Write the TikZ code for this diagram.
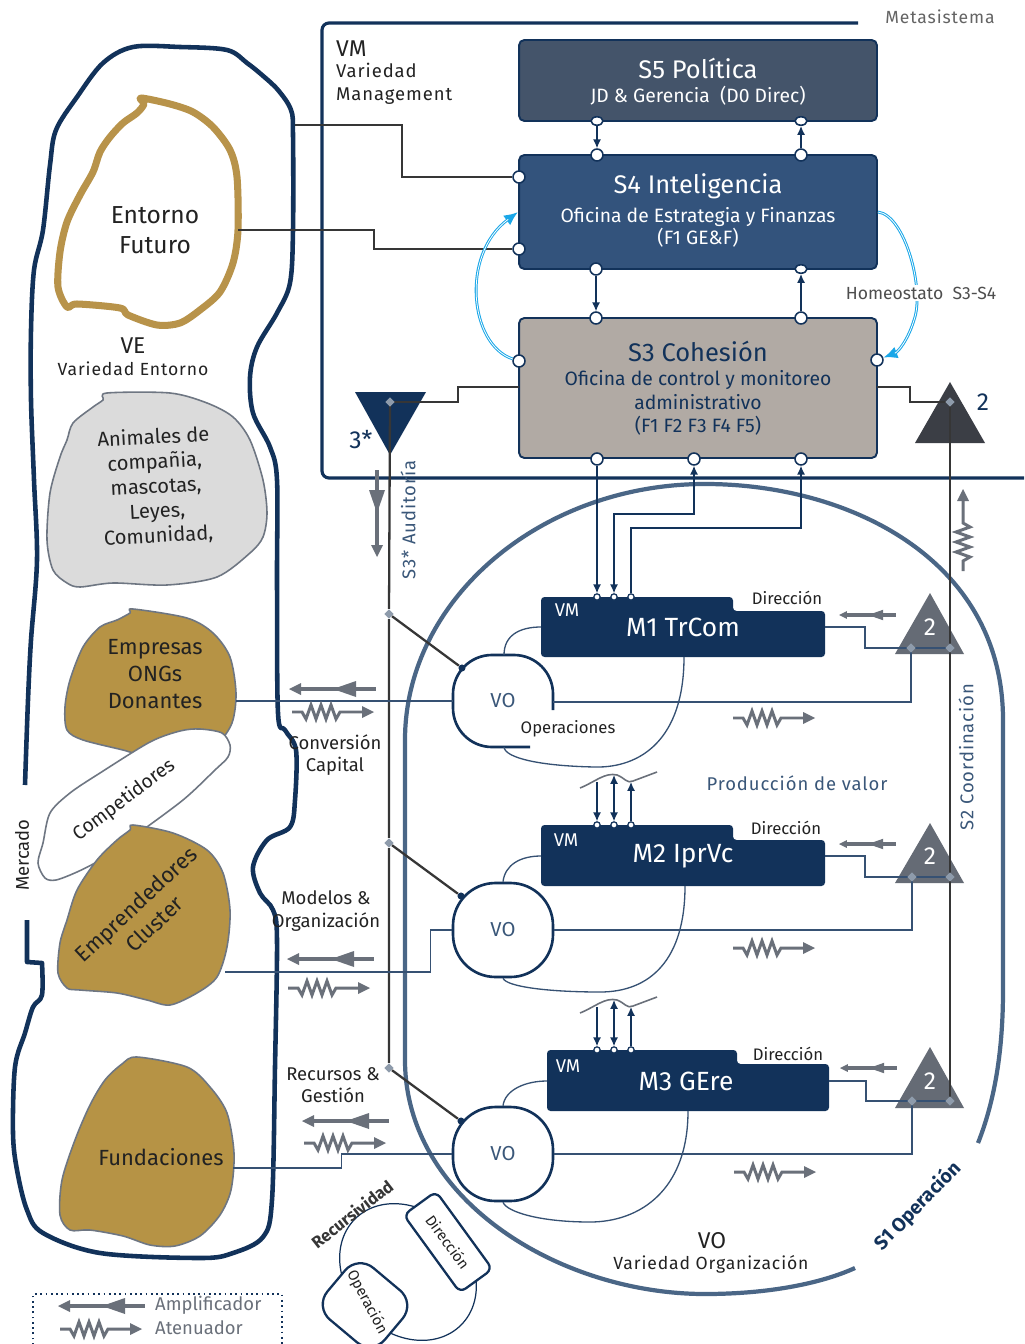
\documentclass[tikz,border=0pt]{standalone}
\usepackage{fontspec}
\setmainfont{Fira Sans}
\newfontfamily\spaced{Fira Sans}[LetterSpace=5]
\usetikzlibrary{arrows.meta,shapes.geometric,calc}

\definecolor{navy}{HTML}{12325A}
\definecolor{s5c}{HTML}{44546A}
\definecolor{s4c}{HTML}{33537C}
\definecolor{s3c}{HTML}{B1AAA4}
\definecolor{archc}{HTML}{4A6686}
\definecolor{trig}{HTML}{656B75}
\definecolor{trigdark}{HTML}{3B3E45}
\definecolor{diam}{HTML}{8E9BAB}
\definecolor{gold}{HTML}{B8934A}
\definecolor{blobgold}{HTML}{B69345}
\definecolor{blobline}{HTML}{6E7682}
\definecolor{ampc}{HTML}{6A707A}
\definecolor{cyanc}{HTML}{1AA7E8}
\definecolor{darkline}{HTML}{363636}
\definecolor{ink}{HTML}{222222}
\definecolor{slate}{HTML}{3A5779}

\newcommand\fsz[1]{\fontsize{#1}{\fpeval{#1*1.22}}\selectfont}

\tikzset{
  sbox/.style={rectangle, rounded corners=3pt, draw=navy, line width=1.1pt,
    minimum width=7.16cm},
  port/.style={circle, draw=navy, fill=white, line width=0.9pt, inner sep=0pt, minimum size=6.8pt},
  eport/.style={ellipse, draw=navy, fill=white, line width=0.9pt, inner sep=0pt,
    minimum width=6.8pt, minimum height=4.8pt},
  mport/.style={circle, draw=navy, fill=white, line width=0.7pt, inner sep=0pt, minimum size=3.6pt},
  conn/.style={navy, line width=0.7pt, >={Latex[length=5pt,width=4.5pt]}},
  thinlink/.style={navy!85!white, line width=0.75pt},
  grayline/.style={darkline, line width=1.3pt},
  dmd/.style={diamond, fill=diam, inner sep=0pt, minimum size=5.5pt},
  dot/.style={circle, fill=navy, inner sep=0pt, minimum size=4pt},
  vobox/.style={draw=navy, line width=1.5pt, rounded corners=0.85cm, minimum width=2cm,
    minimum height=1.88cm, text=slate, font=\fsz{11.5}},
  lbl/.style={text=ink, align=center, inner sep=1pt},
  blob/.style={draw=blobline, line width=0.9pt, fill=blobgold},
  amp/.pic={
    \fill[ampc] (0,0) -- (12,-6) -- (12,6) -- cycle;
    \draw[ampc, line width=1.8pt] (10,0) -- (87,0);
    \fill[ampc] (44,0) -- (67,-8) -- (67,8) -- cycle;
  },
  att/.pic={
    \draw[ampc, line width=1.7pt, line join=miter] (0,0) -- (10,0) -- (14,7) -- (19,-7)
      -- (24,7) -- (29,-7) -- (34,7) -- (39,-7) -- (44,7) -- (48,0) -- (71,0);
    \fill[ampc] (82,0) -- (70,-6) -- (70,6) -- cycle;
  },
}

\begin{document}
\begin{tikzpicture}[x=0.02cm, y=-0.02cm, font=\fsz{10}]
\useasboundingbox (0,0) rectangle (1024,1344);
\fill[white] (0,0) rectangle (1024,1344);

% ---------- environment (left side) ----------
\draw[navy, line width=2.6pt, line join=round] plot[smooth, tension=0.55] coordinates {
  (25,785) (28,700) (31,640) (37,560) (34,480) (31,400) (31,330) (34,270) (43,230)
  (50,165) (56,130) (77,97) (103,63) (133,47) (180,47) (227,50) (247,63) (262,75)
  (278,90) (291,110) (293,135) (293,230) (290,283) (277,313) (257,347) (250,377)
  (253,413) (270,447) (277,480) (277,580) (278,713) (285,730) (296,750) (295,800)
  (290,827) (267,840) (253,867) (260,893) (273,910) (277,940) (275,1067) (272,1200)
  (263,1237) (233,1253) (200,1258) (100,1253) (43,1233) (27,1210) (17,1170)
  (13,1133) (15,1067) (25,1033) (33,1007) (42,995) (42,963)}
  -- (27,962) -- (27,920);

% future environment
\draw[gold, line width=4pt, line join=round] plot[smooth cycle, tension=0.5] coordinates {
  (141,98) (144,104) (137,113) (123,123) (110,137) (100,152) (93,172) (80,195)
  (67,222) (60,252) (58,287) (67,307) (77,304) (120,308) (128,315) (157,325)
  (180,323) (200,310) (220,292) (233,263) (238,230) (237,177) (230,150) (213,127)
  (193,112) (170,104)};

% stakeholder blobs
\draw[draw=blobline, line width=0.9pt, fill=black!14] plot[smooth cycle, tension=0.5] coordinates {
  (107,393) (170,393) (207,403) (233,417) (250,440) (263,480) (267,513) (263,537)
  (250,553) (217,577) (167,585) (113,583) (80,587) (67,583) (53,570) (47,540)
  (50,493) (60,457) (67,440) (73,423) (93,407) (103,400)};
\draw[blob] plot[smooth cycle, tension=0.5] coordinates {
  (133,609) (187,618) (213,633) (230,657) (236,693) (232,723) (217,743) (187,753)
  (150,757) (123,750) (83,740) (67,730) (65,707) (70,680) (83,647) (100,627)
  (117,620) (130,613)};
\draw[draw=blobline, line width=0.9pt, fill=white] plot[smooth cycle, tension=0.5] coordinates {
  (230,745) (222,733) (200,729) (180,731) (150,742) (100,773) (70,793) (50,813)
  (43,843) (38,863) (45,878) (56,880) (77,872) (100,860) (133,837) (183,800)
  (215,770) (228,757)};
\draw[blob] plot[smooth cycle, tension=0.5] coordinates {
  (133,825) (173,833) (207,850) (223,873) (230,910) (227,947) (217,977) (197,993)
  (170,1005) (147,1000) (117,993) (80,990) (67,988) (58,973) (60,943) (67,920)
  (77,890) (97,860) (117,840) (130,830)};
\draw[blob] plot[smooth cycle, tension=0.5] coordinates {
  (137,1057) (187,1067) (210,1087) (227,1113) (234,1153) (231,1190) (220,1215)
  (200,1236) (175,1246) (150,1245) (123,1236) (90,1230) (70,1230) (60,1215)
  (62,1180) (75,1140) (90,1105) (105,1080) (122,1064)};

% ---------- metasystem frame ----------
\draw[navy, line width=1.8pt, rounded corners=4pt] (858,23) -- (322,23) -- (322,478) -- (1024,478);

% ---------- S1 operation boundary ----------
\draw[archc, line width=2.4pt] (978,1143)
  .. controls (995,1100) and (1003,1050) .. (1003,990) -- (1003,720)
  .. controls (1003,560) and (850,484) .. (705,484)
  .. controls (540,484) and (405,600) .. (405,740) -- (405,1060)
  .. controls (405,1200) and (560,1294) .. (705,1294)
  .. controls (770,1294) and (822,1283) .. (855,1268);

% ---------- management boxes ----------
\node[sbox, fill=s5c, minimum height=1.62cm] (s5) at (698,80.5) {};
\node[sbox, fill=s4c, minimum height=2.28cm] (s4) at (698,212) {};
\node[sbox, fill=s3c, minimum height=2.8cm] (s3) at (698,388) {};

\node[text=white, font=\fsz{14.5}] (s5t) at (698,68) {S5 Política};
\node[text=white, font=\fsz{11}] (s5s) at (698,96) {JD \& Gerencia\ \ (D0 Direc)};
\node[text=white, font=\fsz{14.5}] (s4t) at (698,186) {S4 Inteligencia};
\node[text=white, font=\fsz{11}, align=center] (s4s) at (698,227)
  {Oficina de Estrategia y Finanzas\\[-1pt](F1 GE\&F)};
\node[text=navy, font=\fsz{14.5}] (s3t) at (698,351) {S3 Cohesión};
\node[text=navy, font=\fsz{11}, align=center] (s3s) at (698,403)
  {Oficina de control y monitoreo\\administrativo\\(F1 F2 F3 F4 F5)};

% ports
\node[eport] (s5p1) at (597,121) {};
\node[eport] (s5p2) at (801,121) {};
\node[port] (s4t1) at (597,155) {};
\node[port] (s4t2) at (801,155) {};
\node[port] (s4b1) at (596,269) {};
\node[eport] (s4b2) at (801,269) {};
\node[port] (s3t1) at (596,318) {};
\node[port] (s3t2) at (801,318) {};
\node[port] (s4l1) at (519,177) {};
\node[port] (s4l2) at (519,249) {};
\node[port] (s3l) at (519,361) {};
\node[port] (s3r) at (877,360) {};
\node[port] (s3b1) at (597,459) {};
\node[port] (s3b2) at (694,459) {};
\node[port] (s3b3) at (801,459) {};

\draw[conn, ->] (s5p1) -- (s4t1);
\draw[conn, <-] (s5p2) -- (s4t2);
\draw[conn, ->] (s4b1) -- (s3t1);
\draw[conn, <-] (s4b2) -- (s3t2);

% links from the environment into S4
\coordinate (veR) at (295,125);
\coordinate (efR) at (238,230);
\draw[grayline] (veR) -- ++(107,0) |- (s4l1);
\draw[grayline] (efR) -- ++(136,0) |- (s4l2);

% homeostat S3-S4
\draw[cyanc, line width=1.6pt, -{Latex[length=8pt,width=7pt]}] (s3l)
  .. controls (470,345) and (460,255) .. (s4.west);
\draw[white, line width=0.45pt, shorten >=7pt] (s3l)
  .. controls (470,345) and (460,255) .. (s4.west);
\draw[cyanc, line width=1.6pt, -{Latex[length=8pt,width=7pt]}] (s4.east)
  .. controls (905,215) and (925,290) .. (914,320) .. controls (908,340) and (898,352) .. (s3r);
\draw[white, line width=0.45pt, shorten >=7pt] (s4.east)
  .. controls (905,215) and (925,290) .. (914,320) .. controls (908,340) and (898,352) .. (s3r);
\node[fill=white, text=ink!80, font=\fsz{10}, inner sep=1pt] (homeo) at (921,293) {Homeostato\ \ S3-S4};

% ---------- S3* audit channel ----------
\fill[navy] (355,392) -- (426,392) -- (390,455) -- cycle;
\node[inner sep=0pt] (aud) at (390,402) {};
\coordinate (s3lo) at (519,387);
\draw[grayline] (s3lo) -- ++(-61,0) |- (aud);
\node[text=navy, font=\fsz{14}] (three) at (361,440) {3*};
\node[dmd] (dA) at (389,614) {};
\node[dmd] (dB) at (389,843) {};
\node[dmd] (dC) at (389,1068) {};
\draw[grayline] (aud.center) -- (dA) -- (dB) -- (dC);
\node[dmd] at (390,402) {};
\node[rotate=90, text=slate, font=\spaced\fsz{10.5}] (audt) at (408,520) {S3* Auditoría};
\pic[rotate=90] at (377,557) {amp};

% ---------- S2 coordination channel ----------
\fill[trigdark] (915,443) -- (985,443) -- (950,382) -- cycle;
\node[inner sep=0pt] (coo) at (950,402) {};
\coordinate (s3ro) at (877,387);
\draw[grayline] (s3ro) -- ++(33,0) |- (coo);
\node[text=navy, font=\fsz{14}] (two) at (983,402) {2};
\node[rotate=90, text=slate, font=\spaced\fsz{10.5}] (coot) at (966,757) {S2 Coordinación};
\pic[rotate=90] at (963,571) {att};

% ---------- operational units ----------
% unit boxes
\fill[navy, rounded corners=2pt] (541,597) -- (733,597) -- (733,611) -- (825,611) -- (825,657) -- (541,657) -- cycle;
\fill[navy, rounded corners=2pt] (541,825) -- (733,825) -- (733,840) -- (825,840) -- (825,886) -- (541,886) -- cycle;
\fill[navy, rounded corners=2pt] (547,1050) -- (737,1050) -- (737,1064) -- (829,1064) -- (829,1111) -- (547,1111) -- cycle;
\coordinate (m1w) at (541,627); \coordinate (m1e) at (825,627); \coordinate (m1s) at (684,657);
\coordinate (m2w) at (541,856); \coordinate (m2e) at (825,856); \coordinate (m2s) at (685,886);
\coordinate (m3w) at (547,1081); \coordinate (m3e) at (829,1081); \coordinate (m3s) at (688,1111);

\node[text=white, font=\fsz{10.5}] (m1vm) at (567,610) {VM};
\node[text=white, font=\fsz{15}] (m1t) at (683,627) {M1 TrCom};
\node[text=ink, font=\fsz{9.5}] (m1d) at (787,598) {Dirección};
\node[text=white, font=\fsz{10.5}] (m2vm) at (566,840) {VM};
\node[text=white, font=\fsz{15}] (m2t) at (683,856) {M2 IprVc};
\node[text=ink, font=\fsz{9.5}] (m2d) at (786,828) {Dirección};
\node[text=white, font=\fsz{10.5}] (m3vm) at (568,1066) {VM};
\node[text=white, font=\fsz{15}] (m3t) at (686,1081) {M3 GEre};
\node[text=ink, font=\fsz{9.5}] (m3d) at (788,1054) {Dirección};

% operation shapes
\draw[navy, line width=1.5pt, rounded corners=0.78cm] (553,710) -- (553,655) -- (453,655) -- (453,747) -- (530,747);
\node[minimum width=2cm, minimum height=1.84cm, text=slate, font=\fsz{11.5}] (vo1) at (503,701) {VO};
\node[vobox] (vo2) at (503,930) {VO};
\node[vobox] (vo3) at (503,1154) {VO};
\node[text=ink, font=\fsz{9.5}] (ops) at (568,729) {Operaciones};

% management-operation loops
\draw[thinlink] (504,655) .. controls (504,635) and (520,627) .. (m1w);
\draw[thinlink] (m1s) .. controls (684,740) and (640,768) .. (595,767) .. controls (540,766) and (505,758) .. (504,747);
\draw[thinlink] (vo2.north) .. controls (505,865) and (520,856) .. (m2w);
\draw[thinlink] (m2s) .. controls (685,960) and (650,992) .. (600,992) .. controls (550,992) and (507,987) .. (vo2.south);
\draw[thinlink] (vo3.north) .. controls (505,1090) and (525,1081) .. (m3w);
\draw[thinlink] (m3s) .. controls (688,1190) and (640,1222) .. (590,1222) .. controls (540,1222) and (507,1212) .. (vo3.south);

% unit ports and command channel
\foreach \n/\x in {1/597,2/614,3/631} {
  \node[mport] (m1p\n) at (\x,597) {};
  \node[mport] (m2p\n) at (\x,825) {};
  \node[mport] (m3p\n) at (\x,1050) {};
}
\draw[conn, ->] (s3b1) -- (m1p1);
\draw[conn, <->] (s3b2) -- ++(0,55) -| (m1p2);
\draw[conn, <-] (s3b3) -- ++(0,69) -| (m1p3);

% value production links between units
\draw[ampc, line width=0.9pt] (580,788) .. controls (595,782) and (605,772) .. (617,775)
  .. controls (625,778) and (627,784) .. (633,781) -- (657,772);
\draw[ampc, line width=0.9pt] (580,1013) .. controls (595,1007) and (605,997) .. (617,1000)
  .. controls (625,1003) and (627,1009) .. (633,1006) -- (657,997);
\coordinate (w2a) at (597,782); \coordinate (w2b) at (614,775); \coordinate (w2c) at (631,782);
\coordinate (w3a) at (597,1007); \coordinate (w3b) at (614,1000); \coordinate (w3c) at (631,1007);
\draw[conn, ->] (w2a) -- (m2p1);
\draw[conn, <->] (w2b) -- (m2p2);
\draw[conn, <-] (w2c) -- (m2p3);
\draw[conn, ->] (w3a) -- (m3p1);
\draw[conn, <->] (w3b) -- (m3p2);
\draw[conn, <-] (w3c) -- (m3p3);
\node[text=slate, font=\spaced\fsz{10.5}] (prod) at (797,783) {Producción de valor};

% coordination triangles
\fill[trig] (895,654) -- (964,654) -- (930,593) -- cycle;
\fill[trig] (895,883) -- (964,883) -- (930,823) -- cycle;
\fill[trig] (895,1108) -- (964,1108) -- (930,1047) -- cycle;
\node[text=white, font=\fsz{14}] (c1) at (930,627) {2};
\node[text=white, font=\fsz{14}] (c2) at (930,856) {2};
\node[text=white, font=\fsz{14}] (c3) at (930,1081) {2};

\node[inner sep=0pt] (t1l) at (911,648) {};
\node[inner sep=0pt] (t1r) at (950,648) {};
\node[inner sep=0pt] (t2l) at (912,877) {};
\node[inner sep=0pt] (t2r) at (950,877) {};
\node[inner sep=0pt] (t3l) at (912,1101) {};
\node[inner sep=0pt] (t3r) at (950,1101) {};

\draw[grayline, line width=1.5pt] (coo.center) -- (t1r.center) -- (t2r.center) -- (t3r.center);

\draw[thinlink] (m1e) -- ++(40,0) |- (t1r);
\draw[thinlink] (553,702) -| (t1l);
\draw[thinlink] (m2e) -- ++(40,0) |- (t2r);
\draw[thinlink] (vo2.east) -| (t2l);
\draw[thinlink] (m3e) -- ++(37,0) |- (t3r);
\draw[thinlink] (vo3.east) -| (t3l);

\foreach \d in {t1l,t1r,t2l,t2r,t3l,t3r} { \node[dmd] at (\d) {}; }
\node[dmd] at (950,402) {};

% audit links to operations
\node[dot] (vo1a) at (462,668) {};
\node[dot] (vo2a) at (461,896) {};
\node[dot] (vo3a) at (461,1121) {};
\draw[grayline] (dA) -- (vo1a);
\draw[grayline] (dB) -- (vo2a);
\draw[grayline] (dC) -- (vo3a);

% operations to environment
\coordinate (empR) at (236,701);
\coordinate (cluR) at (225,972);
\coordinate (funR) at (233,1168);
\draw[thinlink] (453,701) -- (empR);
\draw[thinlink] (vo2.west) -- ++(-21,0) |- (cluR);
\draw[thinlink] (vo3.west) -- ++(-110,0) |- (funR);

% amplifiers and attenuators
\pic at (289,689) {amp};
\pic at (292,712) {att};
\pic at (287,959) {amp};
\pic at (288,988) {att};
\pic at (302,1121) {amp};
\pic at (304,1143) {att};
\pic[scale=0.66] at (839,615) {amp};
\pic[scale=0.66] at (839,844) {amp};
\pic[scale=0.66] at (840,1068) {amp};
\pic at (733,718) {att};
\pic at (733,948) {att};
\pic at (734,1172) {att};

% ---------- texts of the environment ----------
\node[text=ink!70, font=\spaced\fsz{10}] (meta) at (940,17) {Metasistema};
\node[text=ink, font=\fsz{13}, anchor=west] (vm) at (330,49) {VM};
\node[text=ink, font=\spaced\fsz{10.5}, anchor=west, align=left] (vmt) at (330,84) {Variedad\\Management};
\node[lbl, font=\fsz{14}] (ef) at (155,230) {Entorno\\Futuro};
\node[lbl, font=\fsz{13}] (ve) at (133,346) {VE};
\node[lbl, font=\spaced\fsz{10}] (vet) at (133,369) {Variedad Entorno};
\node[lbl, font=\fsz{11.5}, rotate=3] (anim) at (156,487) {Animales de\\compañia,\\mascotas,\\Leyes,\\Comunidad,};
\node[lbl, font=\fsz{12.5}] (emp) at (155,674) {Empresas\\ONGs\\Donantes};
\node[lbl, font=\fsz{11}, rotate=37] (comp) at (124,800) {Competidores};
\node[lbl, font=\fsz{12.5}, rotate=43] (clu) at (145,914) {Emprendedores\\Cluster};
\node[lbl, font=\fsz{12.5}] (fun) at (161,1157) {Fundaciones};
\node[lbl, font=\fsz{10.5}, rotate=90] (merc) at (22,855) {Mercado};
\node[lbl, font=\fsz{10.5}] (conv) at (335,755) {Conversión\\Capital};
\node[lbl, font=\fsz{10.5}] (mod) at (326,911) {Modelos \&\\Organización};
\node[lbl, font=\fsz{10.5}] (rec) at (333,1085) {Recursos \&\\Gestión};
\node[lbl, font=\fsz{13}] (vo) at (712,1241) {VO};
\node[lbl, font=\spaced\fsz{10}] (vot) at (711,1264) {Variedad Organización};
\node[text=navy, font=\bfseries\fsz{11}, rotate=46] (s1) at (918,1206) {S1 Operación};

% ---------- recursion sketch ----------
\draw[navy, line width=0.7pt, rotate around={-45:(408,1272)}] (408,1272) ellipse [x radius=1.5cm, y radius=1.22cm];
\node[draw=navy, fill=white, line width=1.3pt, rounded corners=4pt, rotate=-54,
  minimum width=1.92cm, minimum height=0.8cm, font=\fsz{8.5}, text=ink] (rdir) at (448,1242) {Dirección};
\node[draw=navy, fill=white, line width=1.3pt, rounded corners=0.4cm, rotate=-40,
  minimum width=1.5cm, minimum height=1.35cm, inner sep=0pt] (rop) at (365,1305) {};
\node[font=\fsz{8.5}, text=ink, rotate=-62] (ropt) at (367,1302) {Operación};
\node[text=darkline, font=\bfseries\fsz{9.5}, rotate=38] (recu) at (352,1214) {Recursividad};

% ---------- legend ----------
\draw[navy, dotted, line width=1pt] (33,1350) -- (33,1294) -- (282,1294) -- (282,1350);
\pic at (58,1306) {amp};
\pic at (60,1329) {att};
\node[text=ampc, font=\fsz{10.5}, anchor=west] (lamp) at (149,1305) {Amplificador};
\node[text=ampc, font=\fsz{10.5}, anchor=west] (latt) at (149,1328) {Atenuador};
\end{tikzpicture}
\end{document}
